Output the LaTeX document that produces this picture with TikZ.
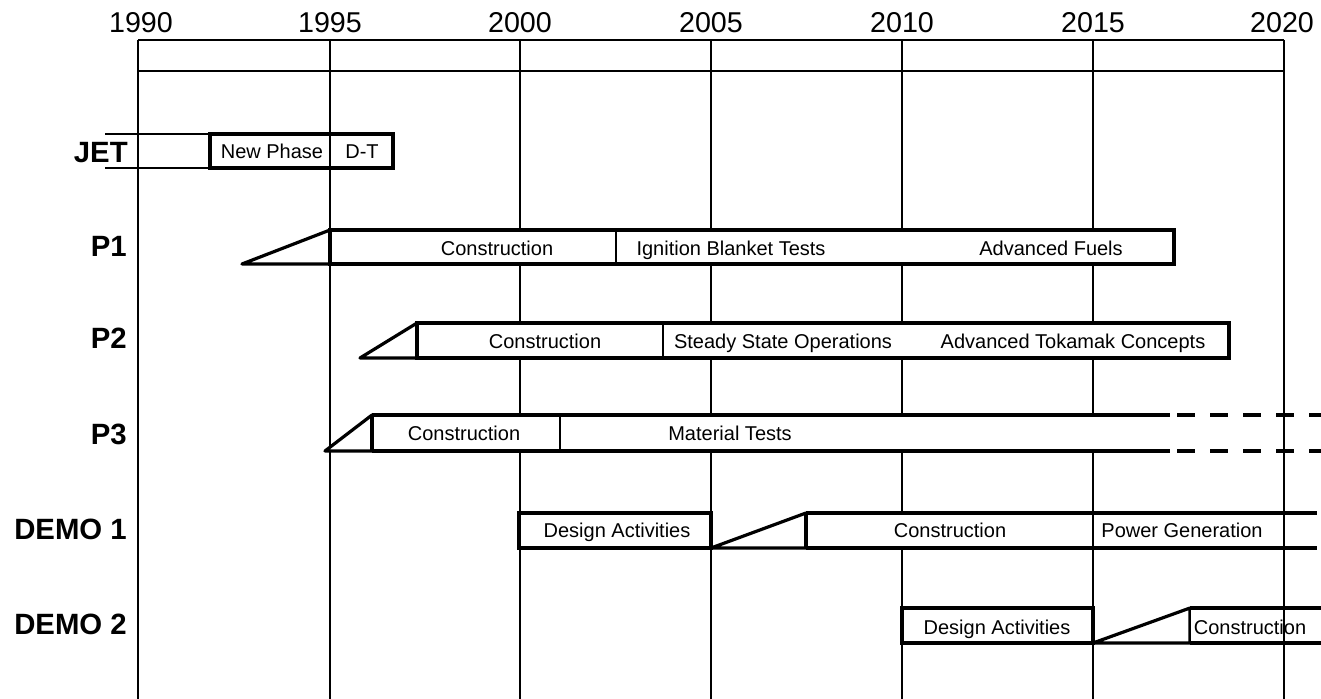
\documentclass[tikz,border=0pt]{standalone}
\usepackage{fontspec}
\setmainfont{Liberation Sans}
\begin{document}
\begin{tikzpicture}[x=0.75pt,y=-0.75pt,
  grid/.style={line width=1.2pt},
  bar/.style={line width=2.4pt, fill=white},
  edge/.style={line width=2.4pt},
  ramp/.style={line width=2.4pt, fill=white, line join=round},
  divider/.style={line width=1.8pt},
  openfill/.style={fill=white, draw=none},
  dashline/.style={line width=2.4pt, dash pattern=on 13.5pt off 11.25pt},
  lbl/.style={font=\fontsize{15}{18}\selectfont, anchor=base, inner sep=0pt},
  rowlbl/.style={font=\bfseries\fontsize{22}{26}\selectfont, anchor=base east, inner sep=0pt},
  yr/.style={font=\fontsize{21.5}{26}\selectfont, anchor=base, inner sep=0pt}]
\useasboundingbox (0,0) rectangle (1321,699);

% time axis
\foreach \x in {138,330,520,711,902,1093} \draw[grid] (\x,40) -- (\x,699);
\draw[grid] (138,40) -- (1284,40);
\draw[grid] (138,71) -- (1284,71);
\node[yr] (y1990) at (141,33) {1990};
\node[yr] (y1995) at (330,33) {1995};
\node[yr] (y2000) at (520,33) {2000};
\node[yr] (y2005) at (711,33) {2005};
\node[yr] (y2010) at (902,33) {2010};
\node[yr] (y2015) at (1093,33) {2015};
\node[yr] (y2020) at (1282,33) {2020};

% JET
\draw[grid] (105,134) -- (210,134);
\draw[grid] (105,168) -- (210,168);
\draw[bar] (210,134) rectangle (393,168);
\draw[grid] (330,134) -- (330,168);
\node[lbl] (jetnew) at (272,158) {New Phase};
\node[lbl] (jetdt) at (362,158) {D-T};

% P1
\draw[ramp] (330,230) -- (242,264) -- (330,264);
\draw[bar] (330,230) rectangle (1174,264);
\draw[divider] (616,230) -- (616,264);
\node[lbl] (p1c) at (497,255) {Construction};
\node[lbl] (p1i) at (731,255) {Ignition Blanket Tests};
\node[lbl] (p1a) at (1051,255) {Advanced Fuels};

% P2
\draw[ramp] (417,323) -- (360,358) -- (417,358) -- cycle;
\draw[bar] (417,323) rectangle (1229,358);
\draw[divider] (663,323) -- (663,358);
\node[lbl] (p2c) at (545,348) {Construction};
\node[lbl] (p2s) at (783,348) {Steady State Operations};
\node[lbl] (p2a) at (1073,348) {Advanced Tokamak Concepts};

% P3
\draw[ramp] (372,415) -- (325,451) -- (372,451) -- cycle;
\path[openfill] (372,415) rectangle (1170,451);
\draw[edge] (372,415) -- (372,451);
\draw[edge] (372,415) -- (1170,415);
\draw[edge] (372,451) -- (1170,451);
\draw[divider] (560,415) -- (560,451);
\draw[dashline] (1177,415) -- (1321,415);
\draw[dashline] (1177,451) -- (1321,451);
\node[lbl] (p3c) at (464,440) {Construction};
\node[lbl] (p3m) at (730,440) {Material Tests};

% DEMO 1
\draw[bar] (519,513) rectangle (711,548);
\draw[ramp] (806,513) -- (711,548) -- (806,548) -- cycle;
\path[openfill] (806,513) rectangle (1321,548);
\draw[edge] (806,513) -- (806,548);
\draw[edge] (806,513) -- (1317,513);
\draw[edge] (806,548) -- (1317,548);
\draw[divider] (1093,513) -- (1093,548);
\node[lbl] (d1d) at (617,537) {Design Activities};
\node[lbl] (d1c) at (950,537) {Construction};
\node[lbl] (d1p) at (1182,537) {Power Generation};

% DEMO 2
\draw[bar] (902,608) rectangle (1093,643);
\draw[ramp] (1190,608) -- (1093,643) -- (1190,643) -- cycle;
\path[openfill] (1190,608) rectangle (1321,643);
\draw[divider] (1190,608) -- (1190,643);
\draw[edge] (1190,608) -- (1321,608);
\draw[edge] (1190,643) -- (1321,643);
\node[lbl] (d2d) at (997,634) {Design Activities};
\node[lbl] (d2c) at (1250,634) {Construction};

% 2020 line on top
\draw[grid] (1284,40) -- (1284,699);

% row labels
\node[rowlbl] (ljet) at (128,162) {JET};
\node[rowlbl] (lp1) at (127,256) {P1};
\node[rowlbl] (lp2) at (127,348) {P2};
\node[rowlbl] (lp3) at (127,444) {P3};
\node[rowlbl] (ld1) at (127,539) {DEMO 1};
\node[rowlbl] (ld2) at (127,634) {DEMO 2};
\end{tikzpicture}
\end{document}
